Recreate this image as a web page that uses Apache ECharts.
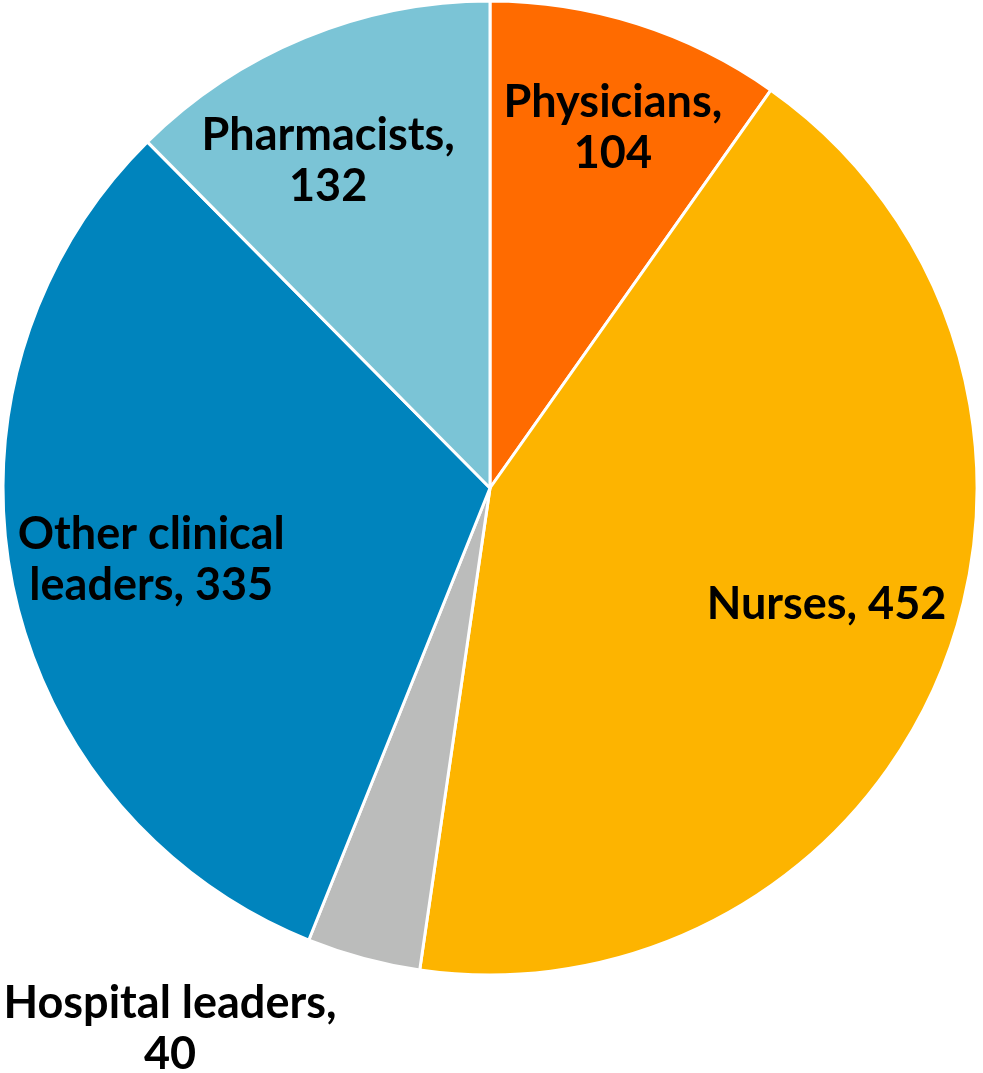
<!DOCTYPE html>
<html>
<head>
<meta charset="utf-8">
<script src="https://cdn.jsdelivr.net/npm/echarts@6/dist/echarts.min.js"></script>
<style>
html,body{margin:0;padding:0;background:#fff;}
#chart{width:983px;height:1073px;}
</style>
</head>
<body>
<div id="chart"></div>
<script>
// Data
const categories = ['Physicians', 'Nurses', 'Hospital leaders', 'Other clinical leaders', 'Pharmacists'];
const values = [104, 452, 40, 335, 132];
const labelTemplates = ['Physicians,\n{v}', 'Nurses, {v}', 'Hospital leaders,\n{v}', 'Other clinical\nleaders, {v}', 'Pharmacists,\n{v}'];

const colors = ['#FF6B00', '#FDB400', '#BBBCBB', '#0084BD', '#7BC4D6'];
const labelOffsets = [[10, -4], [-10, -22], [-223, 181], [27, -2], [-20, 18]];

const chart = echarts.init(document.getElementById('chart'), null, {renderer: 'canvas'});
const center = [490, 488];
const R = 487;

const baseData = categories.map((c, i) => ({
  name: c,
  value: values[i],
  itemStyle: {color: colors[i]}
}));

const labelData = categories.map((c, i) => ({
  name: c,
  value: values[i],
  label: {offset: labelOffsets[i]}
}));

chart.setOption({
  animation: false,
  series: [
    {
      type: 'pie',
      center: center,
      radius: [0, R],
      startAngle: 90,
      clockwise: true,
      data: baseData,
      itemStyle: {borderColor: '#ffffff', borderWidth: 3},
      label: {show: false},
      labelLine: {show: false},
      silent: true
    },
    {
      type: 'pie',
      center: center,
      radius: [R * 0.52, R],
      startAngle: 90,
      clockwise: true,
      data: labelData,
      itemStyle: {color: 'rgba(0,0,0,0)', borderWidth: 0},
      labelLine: {show: false},
      silent: true,
      label: {
        show: true,
        position: 'inside',
        color: '#000000',
        fontFamily: 'Lato',
        fontWeight: 'bold',
        fontSize: 45,
        lineHeight: 51,
        align: 'center',
        formatter: p => labelTemplates[p.dataIndex].replace('{v}', p.value)
      }
    }
  ]
});
</script>
</body>
</html>
